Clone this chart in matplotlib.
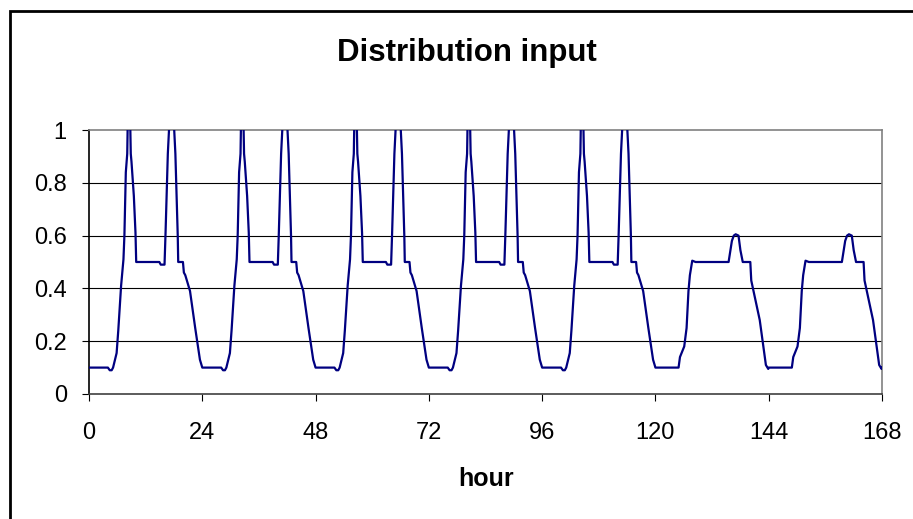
import matplotlib.pyplot as plt
import numpy as np
from matplotlib.patches import Rectangle

plt.rcParams['font.family'] = ['Liberation Sans', 'DejaVu Sans']

# daily profiles (hour of day, relative input)
weekday_hour = [0.0, 4.0, 4.4, 4.8, 5.1, 5.5, 5.85, 6.2, 6.8, 7.3, 7.5, 7.8, 8.1, 8.45,
                8.85, 9.0, 9.5, 9.85, 10.0, 14.9, 15.2, 16.0, 16.2, 16.7, 17.5, 18.3,
                18.6, 18.8, 18.9, 19.9, 20.1, 20.4, 21.4, 22.5, 23.5]
weekday_load = [0.10, 0.10, 0.09, 0.09, 0.10, 0.13, 0.155, 0.24, 0.41, 0.51, 0.60, 0.84, 0.91, 1.30,
                0.91, 0.88, 0.75, 0.61, 0.50, 0.50, 0.49, 0.49, 0.60, 0.91, 1.20, 0.91,
                0.73, 0.60, 0.50, 0.50, 0.46, 0.45, 0.39, 0.25, 0.13]

weekend_hour = [0.0, 4.9, 5.2, 6.1, 6.6, 7.0, 7.3, 7.8, 8.5, 15.5, 15.9, 16.2, 16.6, 17.0,
                17.6, 18.0, 18.5, 20.1, 20.3, 21.2, 22.1, 22.9, 23.4, 23.9]
weekend_load = [0.10, 0.10, 0.14, 0.18, 0.25, 0.39, 0.45, 0.505, 0.50, 0.50, 0.545, 0.58, 0.60, 0.605,
                0.60, 0.545, 0.50, 0.50, 0.43, 0.355, 0.28, 0.175, 0.11, 0.095]

day_types = ['weekday'] * 5 + ['weekend'] * 2
end_hour = [168.0]
end_load = [0.10]

x_ticks = [0, 24, 48, 72, 96, 120, 144, 168]
y_ticks = [0, 0.2, 0.4, 0.6, 0.8, 1]
y_labels = ['0', '0.2', '0.4', '0.6', '0.8', '1']

profiles = {'weekday': (weekday_hour, weekday_load), 'weekend': (weekend_hour, weekend_load)}
hours, load = [], []
for d, kind in enumerate(day_types):
    h, v = profiles[kind]
    hours += [x + 24 * d for x in h]
    load += v
hours += end_hour
load += end_load

W, H = 913, 519
fig = plt.figure(figsize=(W / 100, H / 100), dpi=100)

# outer chart border (runs off the right and bottom of the picture)
fig.patches.append(Rectangle((9.5 / W, -0.1), 2.0, 1.1 - 11 / H, transform=fig.transFigure,
                             fill=False, edgecolor='black', linewidth=2, zorder=0))

ax = fig.add_axes([89 / W, 1 - 394 / H, (882 - 89) / W, (394 - 130) / H])
ax.plot(hours, load, color='#000080', linewidth=1.6, zorder=3)

ax.set_xlim(0, 168)
ax.set_ylim(0, 1)
ax.set_xticks(x_ticks)
ax.set_yticks(y_ticks)
ax.set_yticklabels(y_labels)
ax.tick_params(axis='both', labelsize=17, direction='out', length=5, width=0.8, color='black')
ax.tick_params(axis='x', pad=15)
ax.tick_params(axis='y', pad=11)

for y in y_ticks[1:-1]:
    ax.axhline(y, color='black', linewidth=0.8, zorder=1)

ax.spines['top'].set_color('#808080')
ax.spines['right'].set_color('#808080')
ax.spines['left'].set_color('black')
ax.spines['bottom'].set_color('#404040')
for s in ax.spines.values():
    s.set_linewidth(1.2)

fig.text(467 / W, 1 - 53 / H, 'Distribution input', ha='center', va='center',
         fontsize=22.5, fontweight='bold')
fig.text(486 / W, 1 - 479 / H, 'hour', ha='center', va='center',
         fontsize=18, fontweight='bold')

fig.savefig('out.png', dpi=100)
